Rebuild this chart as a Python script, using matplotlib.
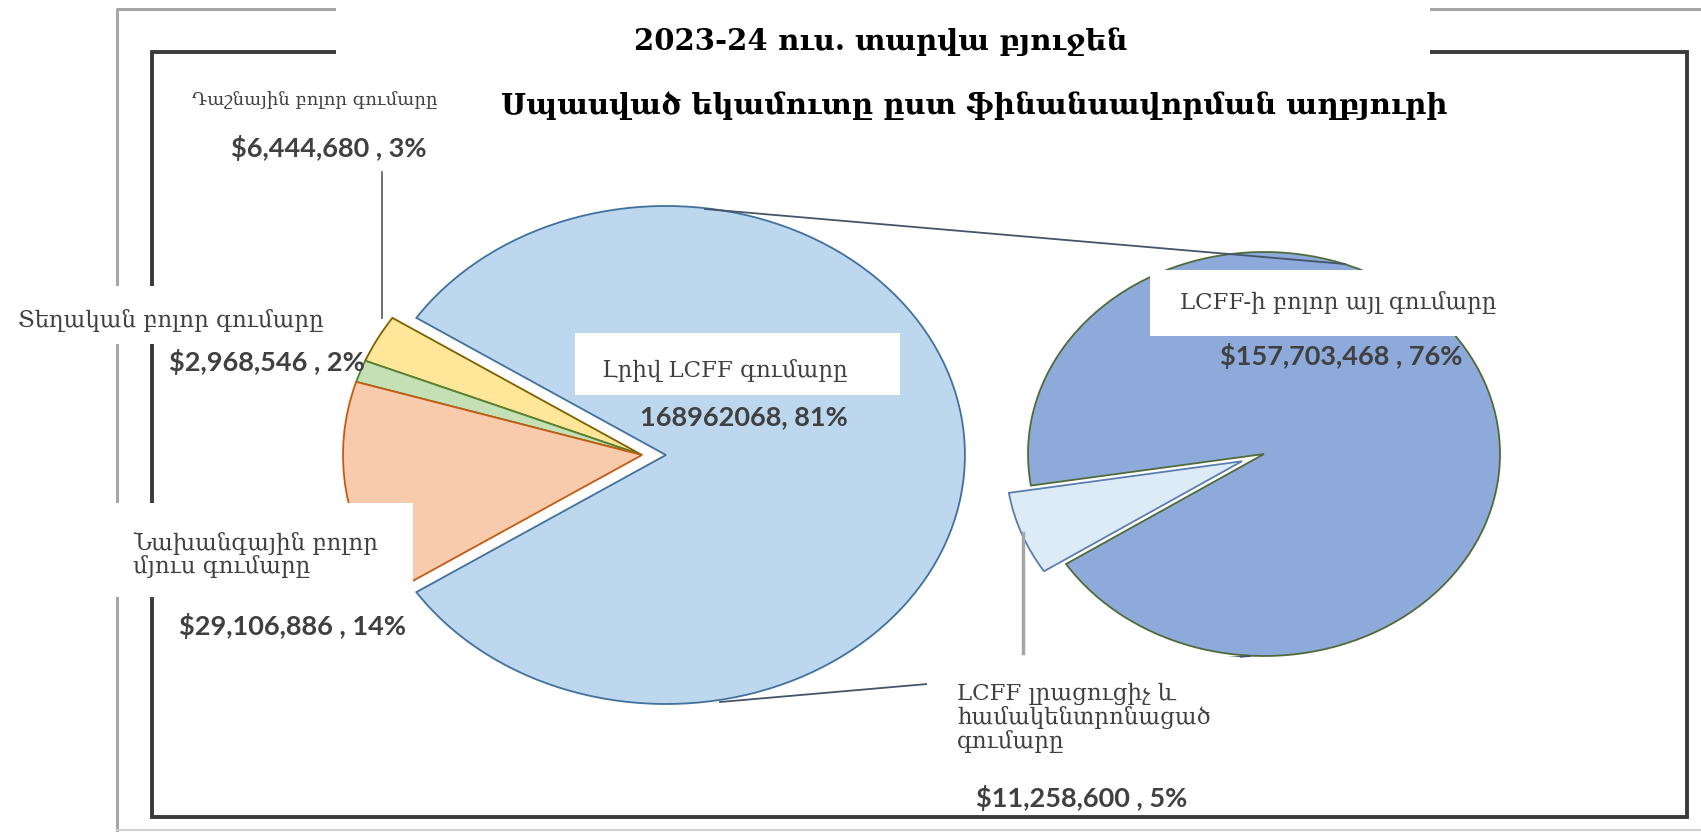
import matplotlib.pyplot as plt
from matplotlib.patches import Rectangle

W, H = 1701, 832

# main pie: total budget by funding source
main_labels = ['Լրիվ LCFF գումարը', 'Դաշնային բոլոր գումարը',
               'Տեղական բոլոր գումարը', 'Նախանգային բոլոր\nմյուս գումարը']
main_values = [168962068, 6444680, 2968546, 29106886]
main_pcts = [81, 3, 2, 14]
main_colors = ['#bdd7ee', '#ffe699', '#c5e0b4', '#f8cbad']
main_edges = ['#41719c', '#7f6000', '#548235', '#c55a11']

# secondary pie: split of LCFF
sub_labels = ['LCFF-ի բոլոր այլ գումարը', 'LCFF լրացուցիչ և\nհամակենտրոնացած\nգումարը']
sub_values = [157703468, 11258600]
sub_pcts = [76, 5]
sub_colors = ['#8eaadb', '#ddebf7']
sub_edges = ['#4f6b3a', '#5b7db1']

ARM = ['DejaVu Serif', 'DejaVu Sans']
NUM = ['Lato', 'DejaVu Sans']
TXT = '#404040'

fig = plt.figure(figsize=(W / 100, H / 100), dpi=100)


def pie_axes(cx, cy, rx, ry, pad=1.25):
    ax = fig.add_axes([(cx - pad * rx) / W, 1 - (cy + pad * ry) / H,
                       2 * pad * rx / W, 2 * pad * ry / H])
    return ax


def finish(ax, pad=1.25):
    ax.set_aspect('auto')
    ax.set_xlim(-pad, pad)
    ax.set_ylim(-pad, pad)
    ax.axis('off')


# left pie, LCFF slice pulled to the right
ax1 = pie_axes(642, 455, 299, 249)
start1 = -180 * main_values[0] / sum(main_values)
wedges, _ = ax1.pie(main_values, colors=main_colors, startangle=start1,
                    explode=[0.08, 0, 0, 0], radius=1,
                    wedgeprops=dict(linewidth=1.3))
for w, ec in zip(wedges, main_edges):
    w.set_edgecolor(ec)
finish(ax1)

# right pie, supplemental slice pulled out to the left
ax2 = pie_axes(1264, 454, 236, 202)
start2 = 201 + 180 * sub_values[1] / sum(sub_values)
wedges2, _ = ax2.pie(sub_values, colors=sub_colors, startangle=start2,
                     explode=[0, 0.1], radius=1,
                     wedgeprops=dict(linewidth=1.3))
for w, ec in zip(wedges2, sub_edges):
    w.set_edgecolor(ec)
finish(ax2)

# overlay in pixel coordinates for frame, connectors and labels
ov = fig.add_axes([0, 0, 1, 1], zorder=2)
ov.set_xlim(0, W)
ov.set_ylim(H, 0)
ov.axis('off')
ov.patch.set_alpha(0)

# frames
ov.plot([117, 117, W], [832, 9, 9], color='#a6a6a6', lw=2.2, zorder=1)
ov.plot([117, W], [830, 830], color='#d0d0d0', lw=1.5, zorder=1)
ov.add_patch(Rectangle((152, 52), 1535, 765, fill=False, ec='#3a3a3a', lw=2.8, zorder=1))

# series lines and leaders
ov.plot([705, 1345], [209, 264], color='#44546a', lw=1.3, zorder=1)
ov.plot([720, 1250], [702, 656], color='#44546a', lw=1.3, zorder=1)
ov.plot([382, 382], [172, 318], color='#595959', lw=1.2, zorder=1)
ov.plot([1023, 1023], [533, 653], color='#a6a6a6', lw=2.5, zorder=1)

# white label boxes
for x, y, w, h in [(336, 0, 1094, 68), (0, 286, 335, 58), (90, 503, 323, 94),
                   (575, 333, 325, 62), (1150, 270, 325, 66), (927, 657, 313, 115)]:
    ov.add_patch(Rectangle((x, y), w, h, fc='white', ec='none', zorder=2))

# titles
ov.text(881, 41, '2023-24 ուս. տարվա բյուջեն', ha='center', va='center',
        fontsize=21, fontweight='bold', family=ARM, color='black', zorder=3)
ov.text(974, 106, 'Սպասված եկամուտը ըստ ֆինանսավորման աղբյուրի', ha='center', va='center',
        fontsize=21, fontweight='bold', family=ARM, color='black', zorder=3)


def money(v, p, plain=False):
    if plain:
        return f'{v}, {p}%'
    return f'${v:,} , {p}%'


# category labels
ov.text(315, 100, main_labels[1], ha='center', va='center', fontsize=13,
        family=ARM, color=TXT, zorder=3)
ov.text(171, 321, main_labels[2], ha='center', va='center', fontsize=16.5,
        family=ARM, color=TXT, zorder=3)
ov.text(133, 555, main_labels[3], ha='left', va='center', fontsize=16.5,
        family=ARM, color=TXT, linespacing=1.05, zorder=3)
ov.text(602, 370, main_labels[0], ha='left', va='center', fontsize=16.5,
        family=ARM, color=TXT, zorder=3)
ov.text(1180, 302, sub_labels[0], ha='left', va='center', fontsize=16.5,
        family=ARM, color=TXT, zorder=3)
ov.text(957, 718, sub_labels[1], ha='left', va='center', fontsize=16.5,
        family=ARM, color=TXT, linespacing=1.05, zorder=3)

# value labels
vkw = dict(ha='center', va='center', fontsize=19.5, fontweight='bold',
           family=NUM, color=TXT, zorder=3)
ov.text(329, 148, money(main_values[1], main_pcts[1]), **vkw)
ov.text(267, 362, money(main_values[2], main_pcts[2]), **vkw)
ov.text(292, 626, money(main_values[3], main_pcts[3]), **vkw)
ov.text(744, 417, money(main_values[0], main_pcts[0], plain=True), **vkw)
ov.text(1341, 356, money(sub_values[0], sub_pcts[0]), **vkw)
ov.text(1082, 798, money(sub_values[1], sub_pcts[1]), **vkw)

fig.savefig('out.png', dpi=100, facecolor='white')
